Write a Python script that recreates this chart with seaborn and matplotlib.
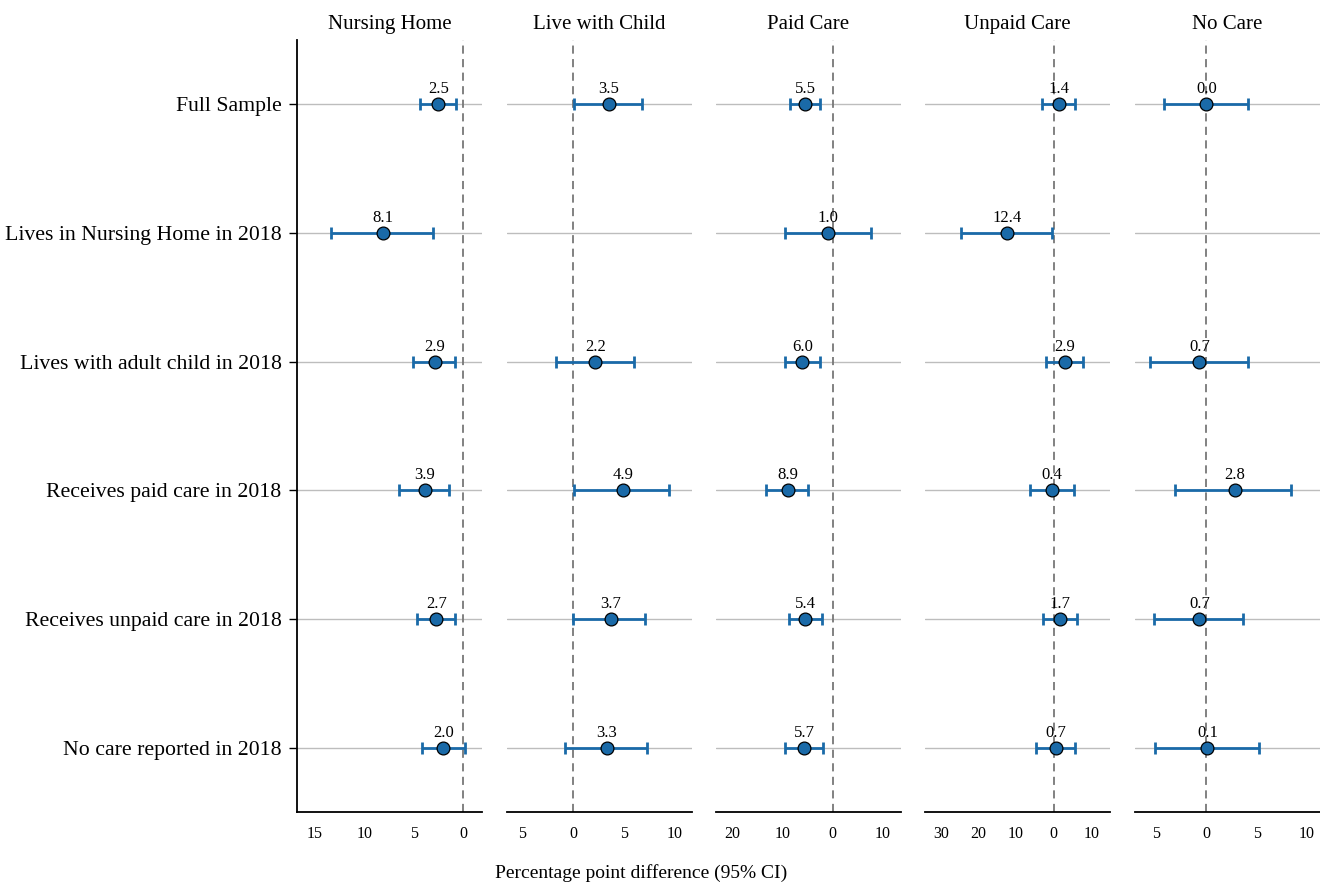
import numpy as np
import pandas as pd
import matplotlib
matplotlib.use("Agg")
import matplotlib.pyplot as plt
import seaborn as sns

# ---- data ----
categories = ["Full Sample", "Lives in Nursing Home in 2018", "Lives with adult child in 2018",
              "Receives paid care in 2018", "Receives unpaid care in 2018", "No care reported in 2018"]
panels = ["Nursing Home", "Live with Child", "Paid Care", "Unpaid Care", "No Care"]

nh_est = [-2.5, -8.1, -2.9, -3.9, -2.7, -2.0]
nh_lo = [-4.35, -13.4, -5.06, -6.46, -4.65, -4.2]
nh_hi = [-0.73, -3.05, -0.84, -1.44, -0.84, 0.17]

lc_est = [3.5, np.nan, 2.2, 4.9, 3.7, 3.3]
lc_lo = [0.07, np.nan, -1.7, 0.13, 0.03, -0.8]
lc_hi = [6.8, np.nan, 6.0, 9.44, 7.1, 7.3]

pc_est = [-5.5, -1.0, -6.0, -8.9, -5.4, -5.7]
pc_lo = [-8.5, -9.5, -9.4, -13.2, -8.6, -9.4]
pc_hi = [-2.45, 7.6, -2.45, -4.9, -2.2, -1.9]

uc_est = [1.4, -12.4, 2.9, -0.4, 1.7, 0.7]
uc_lo = [-3.0, -24.7, -2.1, -6.4, -2.9, -4.6]
uc_hi = [5.7, -0.3, 7.8, 5.5, 6.3, 5.8]

nc_est = [0.0, np.nan, -0.7, 2.8, -0.7, 0.1]
nc_lo = [-4.2, np.nan, -5.6, -3.1, -5.2, -5.1]
nc_hi = [4.1, np.nan, 4.1, 8.4, 3.6, 5.2]

x_ticks = [[-15, -10, -5, 0], [-5, 0, 5, 10], [-20, -10, 0, 10], [-30, -20, -10, 0, 10], [-5, 0, 5, 10]]
x_lims = [(-16.8, 1.9), (-6.5, 11.7), (-23.2, 13.6), (-34.2, 15.0), (-7.1, 11.3)]

ests = [nh_est, lc_est, pc_est, uc_est, nc_est]
los = [nh_lo, lc_lo, pc_lo, uc_lo, nc_lo]
his = [nh_hi, lc_hi, pc_hi, uc_hi, nc_hi]

sns.set_theme(style="white")
plt.rcParams['font.family'] = ['Liberation Serif', 'DejaVu Serif']
plt.rcParams['text.color'] = 'black'
plt.rcParams['axes.labelcolor'] = 'black'
plt.rcParams['xtick.color'] = 'black'
plt.rcParams['ytick.color'] = 'black'

fig = plt.figure(figsize=(13.2, 8.83), dpi=100)
lefts = [297, 507, 716, 925, 1135]
W, H = 1320, 883
bottom = 1 - 812 / H
height = (812 - 40) / H
width = 185 / W
color = "#1a6aa8"

for i, p in enumerate(panels):
    ax = fig.add_axes([lefts[i] / W, bottom, width, height])
    df = pd.DataFrame({"cat": categories, "pos": np.arange(len(categories)),
                       "est": ests[i], "lo": los[i], "hi": his[i]})
    for y in df["pos"]:
        ax.axhline(y, color="#bdbdbd", lw=1.0, zorder=0)
    ax.axvline(0, color="#777777", lw=1.3, ls=(0, (4.5, 3)), zorder=1)
    d = df.dropna()
    ax.errorbar(d["est"], d["pos"], xerr=[d["est"] - d["lo"], d["hi"] - d["est"]],
                fmt="none", ecolor=color, elinewidth=2.0, capsize=4.3, capthick=2.0, zorder=2)
    sns.scatterplot(data=d, x="est", y="pos", ax=ax, s=85, color=color,
                    edgecolor="black", linewidth=0.9, zorder=3, legend=False)
    for _, r in d.iterrows():
        ax.text(r["est"], r["pos"] - 0.055, f"{abs(r['est']):.1f}", ha="center", va="bottom",
                fontsize=12, color="black", zorder=4)
    ax.set_xlim(*x_lims[i])
    ax.set_ylim(len(categories) - 0.5, -0.5)
    ax.set_xticks(x_ticks[i])
    ax.set_xticklabels([str(abs(t)) for t in x_ticks[i]], fontsize=11.5)
    ax.set_xlabel("")
    ax.set_ylabel("")
    ax.set_title(p, fontsize=15, pad=8, color="black")
    ax.tick_params(axis="x", direction="out", length=6, width=1, color="black", pad=4)
    for s in ["top", "right"]:
        ax.spines[s].set_visible(False)
    ax.spines["bottom"].set_color("black")
    ax.spines["bottom"].set_linewidth(1.3)
    if i == 0:
        ax.set_yticks(np.arange(len(categories)))
        ax.set_yticklabels(categories, fontsize=15.7)
        ax.tick_params(axis="y", direction="out", length=6, width=1, color="black", pad=5, left=True)
        ax.spines["left"].set_color("black")
        ax.spines["left"].set_linewidth(1.3)
    else:
        ax.set_yticks([])
        ax.spines["left"].set_visible(False)
    ax.grid(False)

fig.text(641 / W, 1 - 873 / H, "Percentage point difference (95% CI)", ha="center", va="center",
         fontsize=14)

fig.savefig("out.png", dpi=100)
